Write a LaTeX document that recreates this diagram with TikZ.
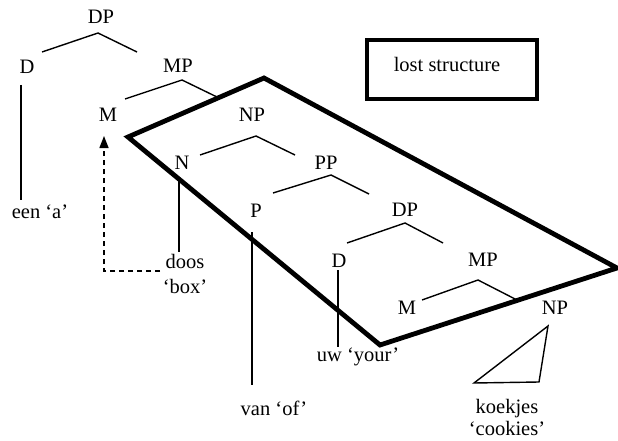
\documentclass[tikz,border=0pt]{standalone}
\usepackage{fontspec}
\setmainfont{Liberation Serif}
\usetikzlibrary{arrows.meta}
\begin{document}
\begin{tikzpicture}[x=1pt,y=-1pt,
  lbl/.style={inner sep=0pt, font=\fontsize{20.5}{25}\selectfont, align=center},
  branch/.style={line width=1.4pt},
  heavy/.style={line width=4.8pt, line join=miter},
  dashconn/.style={line width=1.4pt, dash pattern=on 5pt off 4pt, -{Triangle[width=9pt,length=12pt]}},
]
\useasboundingbox (0,0) rectangle (618,441);

% labels
\node[lbl] (DPa) at (101,17) {DP};
\node[lbl] (Da) at (27,67) {D};
\node[lbl] (MPa) at (178,66) {MP};
\node[lbl] (Ma) at (108,115) {M};
\node[lbl] (NPa) at (252,115) {NP};
\node[lbl] (N) at (182,163) {N};
\node[lbl] (PP) at (326,163) {PP};
\node[lbl] (P) at (256,211) {P};
\node[lbl] (DPb) at (405,210) {DP};
\node[lbl] (Db) at (339,261) {D};
\node[lbl] (MPb) at (483,260) {MP};
\node[lbl] (Mb) at (407,308) {M};
\node[lbl] (NPb) at (555,308) {NP};
\node[lbl] (een) at (40,212) {een ‘a’};
\node[lbl] (doos) at (185,274) {doos\\‘box’};
\node[lbl] (van) at (274,408) {van ‘of’};
\node[lbl] (uw) at (358,357) {uw ‘your’};
\node[lbl] (koek) at (507,417) {koekjes\\[-3pt]‘cookies’};
\node[lbl, draw, line width=3.8pt, minimum width=170pt, minimum height=59pt] (lost) at (452,69.5) {};
\node[lbl] (losttxt) at (447,64) {lost structure};

% branch coordinates
\coordinate (a1) at (42,52); \coordinate (a2) at (98,33); \coordinate (a3) at (137,52);
\coordinate (b1) at (125,99); \coordinate (b2) at (182,80); \coordinate (b3) at (217,97);
\coordinate (c1) at (200,155); \coordinate (c2) at (256,136); \coordinate (c3) at (295,155);
\coordinate (d1) at (273,193); \coordinate (d2) at (331,175); \coordinate (d3) at (369,194);
\coordinate (e1) at (347,243); \coordinate (e2) at (405,223); \coordinate (e3) at (443,243);
\coordinate (f1) at (422,300); \coordinate (f2) at (478,280); \coordinate (f3) at (517,300);

\draw[branch] (a1) -- (a2) -- (a3);
\draw[branch] (b1) -- (b2) -- (b3);
\draw[branch] (c1) -- (c2) -- (c3);
\draw[branch] (d1) -- (d2) -- (d3);
\draw[branch] (e1) -- (e2) -- (e3);
\draw[branch] (f1) -- (f2) -- (f3);

% vertical lines
\coordinate (v1t) at (21,85); \coordinate (v1b) at (21,200);
\coordinate (v2t) at (179,181); \coordinate (v2b) at (179,252);
\coordinate (v3t) at (252,232); \coordinate (v3b) at (252,385);
\coordinate (v4t) at (338,270); \coordinate (v4b) at (338,347);
\draw[branch] (v1t) -- (v1b);
\draw[branch] (v2t) -- (v2b);
\draw[branch] (v3t) -- (v3b);
\draw[branch] (v4t) -- (v4b);

% triangle
\coordinate (t1) at (548,326); \coordinate (t2) at (474,383); \coordinate (t3) at (539,382);
\draw[branch, line join=miter] (t1) -- (t2) -- (t3) -- cycle;

% dashed movement arrow
\coordinate (m0) at (160,271); \coordinate (m1) at (104,271); \coordinate (m2) at (104,136);
\draw[dashconn] (m0) -- (m1) -- (m2);

% lost structure region
\coordinate (q1) at (128,137); \coordinate (q2) at (264,78);
\coordinate (q3) at (617,268); \coordinate (q4) at (380,345);
\draw[heavy] (q1) -- (q2) -- (q3) -- (q4) -- cycle;
\end{tikzpicture}
\end{document}
